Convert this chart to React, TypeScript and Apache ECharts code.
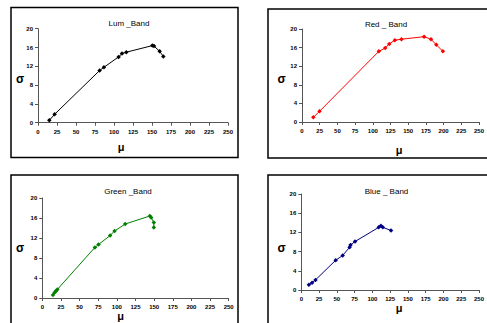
import React, { useEffect, useRef } from "react";
import * as echarts from "echarts";

const xTicks = [0, 25, 50, 75, 100, 125, 150, 175, 200, 225, 250];
const yTicks = [0, 4, 8, 12, 16, 20];

const lumMu = [14.9, 21.9, 81.1, 86.8, 106.1, 110.5, 116.2, 150.4, 152.6, 160, 164.9];
const lumSigma = [0.5, 1.8, 11.1, 11.8, 14.0, 14.7, 15.0, 16.4, 16.3, 15.2, 14.1];

const redMu = [16, 24.8, 108.6, 117.5, 123.2, 131.2, 140.5, 172.4, 182.2, 189.7, 199];
const redSigma = [1.0, 2.3, 15.2, 15.9, 16.8, 17.6, 17.8, 18.35, 17.8, 16.6, 15.2];

const greenMu = [14.3, 16.5, 18.3, 20.1, 70.5, 75.4, 91, 96.9, 111.2, 144.2, 146, 149.6, 149.6];
const greenSigma = [0.6, 1.1, 1.4, 1.7, 10.1, 10.7, 12.5, 13.4, 14.8, 16.4, 16.1, 15.1, 14.1];

const blueMu = [10.7, 15.1, 20, 48.4, 58.2, 68, 69.3, 75.6, 108.9, 112, 114.7, 126.2];
const blueSigma = [1.1, 1.5, 2.1, 6.2, 7.2, 8.9, 9.4, 10.1, 13.05, 13.4, 13.05, 12.4];

const panels = [
  { name: "Lum _Band", color: "#000000", mu: lumMu, sigma: lumSigma,
    grid: { left: 38, top: 28.7, width: 190, height: 94 },
    box: [11, 7.5, 227, 150], titleX: 124, titleY: 14,
    sx: 20, sy: 79, mx: 121, my: 147 },
  { name: "Red _ Band", color: "#ff0000", mu: redMu, sigma: redSigma,
    grid: { left: 302, top: 29, width: 188, height: 93 },
    box: [268, 9, 240, 149], titleX: 381, titleY: 15,
    sx: 281.5, sy: 79, mx: 399, my: 150 },
  { name: "Green _Band", color: "#008000", mu: greenMu, sigma: greenSigma,
    grid: { left: 42.3, top: 198, width: 186.4, height: 100 },
    box: [11, 175, 227, 170], titleX: 123, titleY: 182,
    sx: 20, sy: 248, mx: 120.7, my: 316 },
  { name: "Blue _ Band", color: "#000080", mu: blueMu, sigma: blueSigma,
    grid: { left: 301.3, top: 194, width: 187.5, height: 96 },
    box: [268, 175, 240, 170], titleX: 381.5, titleY: 182,
    sx: 281.5, sy: 248, mx: 399, my: 308 },
];

const FONT = "'Liberation Sans', Arial, sans-serif";

export default function App() {
  const ref = useRef<HTMLDivElement>(null);
  useEffect(() => {
    if (!ref.current) return;
    const chart = echarts.init(ref.current, null, { renderer: "svg" });
    const axisCommon = {
      type: "value" as const,
      axisLine: { show: true, lineStyle: { color: "#555", width: 1 } },
      axisTick: { show: true, length: 3, lineStyle: { color: "#555" } },
      splitLine: { show: false },
      axisLabel: { fontSize: 6, fontWeight: "bold" as const, color: "#000", fontFamily: FONT },
    };
    const option: any = {
      animation: false,
      backgroundColor: "#ffffff",
      title: panels.map((p) => ({
        text: p.name,
        left: p.titleX,
        top: p.titleY,
        textAlign: "center",
        textStyle: { fontSize: 8, fontWeight: "normal", color: "#000", fontFamily: FONT },
      })),
      grid: panels.map((p) => ({ ...p.grid })),
      xAxis: panels.map((_, i) => ({
        ...axisCommon,
        gridIndex: i,
        min: xTicks[0],
        max: xTicks[xTicks.length - 1],
        interval: 25,
        axisLabel: { ...axisCommon.axisLabel, margin: 6 },
      })),
      yAxis: panels.map((_, i) => ({
        ...axisCommon,
        gridIndex: i,
        min: yTicks[0],
        max: yTicks[yTicks.length - 1],
        interval: 4,
        axisLabel: { ...axisCommon.axisLabel, margin: 5 },
      })),
      series: panels.map((p, i) => ({
        type: "line",
        xAxisIndex: i,
        yAxisIndex: i,
        data: p.mu.map((m, k) => [m, p.sigma[k]]),
        symbol: "diamond",
        symbolSize: 4.5,
        showSymbol: true,
        lineStyle: { color: p.color, width: 1 },
        itemStyle: { color: p.color },
      })),
      graphic: [
        ...panels.map((p) => ({
          type: "rect",
          shape: { x: p.box[0], y: p.box[1], width: p.box[2], height: p.box[3] },
          style: { fill: "none", stroke: "#000", lineWidth: 1.5 },
          silent: true,
        })),
        ...panels.map((p) => ({
          type: "text",
          x: p.sx,
          y: p.sy,
          style: { text: "σ", fontSize: 12, fontWeight: "bold", fontFamily: FONT, fill: "#000", align: "center", verticalAlign: "middle" },
        })),
        ...panels.map((p) => ({
          type: "text",
          x: p.mx,
          y: p.my,
          style: { text: "μ", fontSize: 11, fontWeight: "bold", fontFamily: FONT, fill: "#000", align: "center", verticalAlign: "middle" },
        })),
      ],
    };
    chart.setOption(option);
    return () => chart.dispose();
  }, []);
  return (
    <div
      ref={ref}
      style={{ position: "fixed", left: 0, top: 0, width: 487, height: 323, background: "#fff" }}
    />
  );
}
